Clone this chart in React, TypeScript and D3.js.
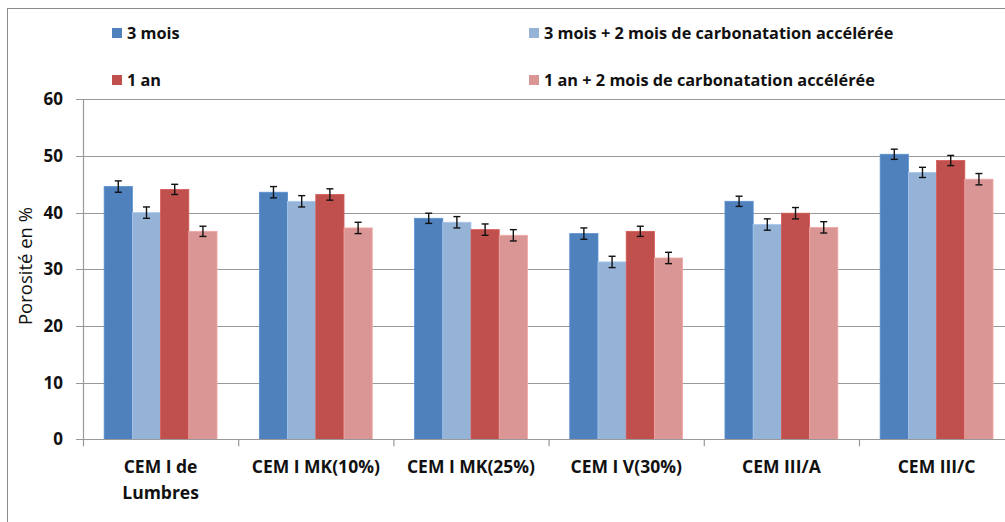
import { useEffect, useRef } from "react";
import * as d3 from "d3";

const categories = [
  ["CEM I de", "Lumbres"],
  ["CEM I MK(10%)"],
  ["CEM I MK(25%)"],
  ["CEM I V(30%)"],
  ["CEM III/A"],
  ["CEM III/C"],
];
const seriesNames = [
  "3 mois",
  "3 mois + 2 mois de carbonatation accélérée",
  "1 an",
  "1 an + 2 mois de carbonatation accélérée",
];
const seriesColors = ["#4F81BD", "#95B3D7", "#C0504D", "#D99694"];

const mois3 = [44.6, 43.6, 39.0, 36.3, 42.0, 50.3];
const mois3Carb = [40.0, 42.0, 38.3, 31.3, 37.9, 47.1];
const an1 = [44.1, 43.2, 37.0, 36.7, 39.9, 49.2];
const an1Carb = [36.7, 37.3, 36.0, 32.0, 37.4, 45.9];
const errors = [
  [1.0, 1.0, 0.9, 1.0, 0.9, 0.9],
  [1.0, 1.0, 1.0, 1.0, 1.0, 0.9],
  [0.9, 1.0, 1.0, 0.9, 1.0, 0.9],
  [0.9, 1.0, 1.0, 1.0, 1.0, 1.0],
];
const yTicks = [0, 10, 20, 30, 40, 50, 60];

const FONT = "'Open Sans', Lato, sans-serif";

export default function App() {
  const ref = useRef<SVGSVGElement>(null);

  useEffect(() => {
    const svg = d3.select(ref.current);
    svg.selectAll("*").remove();

    const values = [mois3, mois3Carb, an1, an1Carb];
    const left = 83;
    const top = 99.3;
    const bottom = 439.3;
    const catW = 155.2;

    const x0 = d3
      .scaleBand()
      .domain(categories.map((_, i) => String(i)))
      .range([left, left + catW * categories.length]);
    const x1 = d3
      .scaleBand()
      .domain(seriesNames.map((_, i) => String(i)))
      .range([0, x0.bandwidth()])
      .paddingOuter(0.75)
      .paddingInner(0);
    const y = d3.scaleLinear().domain([0, 60]).range([bottom, top]);

    // outer frame
    svg
      .append("rect")
      .attr("x", 7.5)
      .attr("y", 8.5)
      .attr("width", 1020)
      .attr("height", 530)
      .attr("fill", "white")
      .attr("stroke", "#8c8c8c")
      .attr("stroke-width", 1);

    // gridlines
    svg
      .append("g")
      .selectAll("line")
      .data(yTicks.filter((t) => t > 0))
      .join("line")
      .attr("x1", left - 7)
      .attr("x2", 1005)
      .attr("y1", (d) => Math.round(y(d)) + 0.5)
      .attr("y2", (d) => Math.round(y(d)) + 0.5)
      .attr("stroke", "#999999")
      .attr("stroke-width", 1.2);

    // bars
    values.forEach((vals, s) => {
      svg
        .append("g")
        .selectAll("rect")
        .data(vals)
        .join("rect")
        .attr("x", (_, i) => (x0(String(i)) as number) + (x1(String(s)) as number))
        .attr("y", (d) => y(d))
        .attr("width", x1.bandwidth())
        .attr("height", (d) => bottom - y(d))
        .attr("fill", seriesColors[s])
        .attr("stroke", d3.color(seriesColors[s])!.brighter(0.3).formatHex())
        .attr("stroke-width", 0.8);
    });

    // error bars
    values.forEach((vals, s) => {
      const g = svg.append("g").attr("stroke", "#111").attr("stroke-width", 1.4);
      vals.forEach((v, i) => {
        const cx = (x0(String(i)) as number) + (x1(String(s)) as number) + x1.bandwidth() / 2;
        const e = errors[s][i];
        g.append("line").attr("x1", cx).attr("x2", cx).attr("y1", y(v + e)).attr("y2", y(v - e));
        g.append("line").attr("x1", cx - 3.5).attr("x2", cx + 3.5).attr("y1", y(v + e)).attr("y2", y(v + e));
        g.append("line").attr("x1", cx - 3.5).attr("x2", cx + 3.5).attr("y1", y(v - e)).attr("y2", y(v - e));
      });
    });

    // axes lines
    svg
      .append("line")
      .attr("x1", left + 0.5)
      .attr("x2", left + 0.5)
      .attr("y1", top)
      .attr("y2", bottom)
      .attr("stroke", "#999999")
      .attr("stroke-width", 1.2);
    svg
      .append("line")
      .attr("x1", left - 7)
      .attr("x2", 1005)
      .attr("y1", Math.round(bottom) + 0.5)
      .attr("y2", Math.round(bottom) + 0.5)
      .attr("stroke", "#999999")
      .attr("stroke-width", 1.2);

    // category tick marks
    svg
      .append("g")
      .selectAll("line")
      .data(d3.range(categories.length + 1))
      .join("line")
      .attr("x1", (i) => left + catW * i + 0.5)
      .attr("x2", (i) => left + catW * i + 0.5)
      .attr("y1", bottom)
      .attr("y2", bottom + 7)
      .attr("stroke", "#999999")
      .attr("stroke-width", 1.2);

    // y tick labels
    svg
      .append("g")
      .selectAll("text")
      .data(yTicks)
      .join("text")
      .attr("x", 63)
      .attr("y", (d) => y(d) + 6)
      .attr("text-anchor", "end")
      .attr("font-family", FONT)
      .attr("font-weight", "bold")
      .attr("font-size", 17)
      .attr("fill", "#111")
      .text((d) => d);

    // y-axis title
    svg
      .append("text")
      .attr("transform", `translate(32, 266) rotate(-90)`)
      .attr("text-anchor", "middle")
      .attr("font-family", FONT)
      .attr("font-size", 18.5)
      .attr("fill", "#111")
      .text("Porosité en %");

    // x labels
    categories.forEach((lines, i) => {
      const cx = (x0(String(i)) as number) + x0.bandwidth() / 2;
      lines.forEach((line, j) => {
        svg
          .append("text")
          .attr("x", cx)
          .attr("y", 473 + j * 26)
          .attr("text-anchor", "middle")
          .attr("font-family", FONT)
          .attr("font-weight", "bold")
          .attr("font-size", 17.5)
          .attr("fill", "#111")
          .text(line);
      });
    });

    // legend
    const legendPos = [
      [112, 33],
      [529, 33],
      [112, 80],
      [529, 80],
    ];
    seriesNames.forEach((name, s) => {
      const [lx, ly] = legendPos[s];
      svg
        .append("rect")
        .attr("x", lx)
        .attr("y", ly - 5)
        .attr("width", 10)
        .attr("height", 10)
        .attr("fill", seriesColors[s]);
      svg
        .append("text")
        .attr("x", lx + 15)
        .attr("y", ly + 5.5)
        .attr("font-family", FONT)
        .attr("font-weight", "bold")
        .attr("font-size", 16.3)
        .attr("fill", "#111")
        .text(name);
    });
  }, []);

  return (
    <svg
      ref={ref}
      width={1005}
      height={522}
      style={{ position: "absolute", left: 0, top: 0, background: "white" }}
    />
  );
}
